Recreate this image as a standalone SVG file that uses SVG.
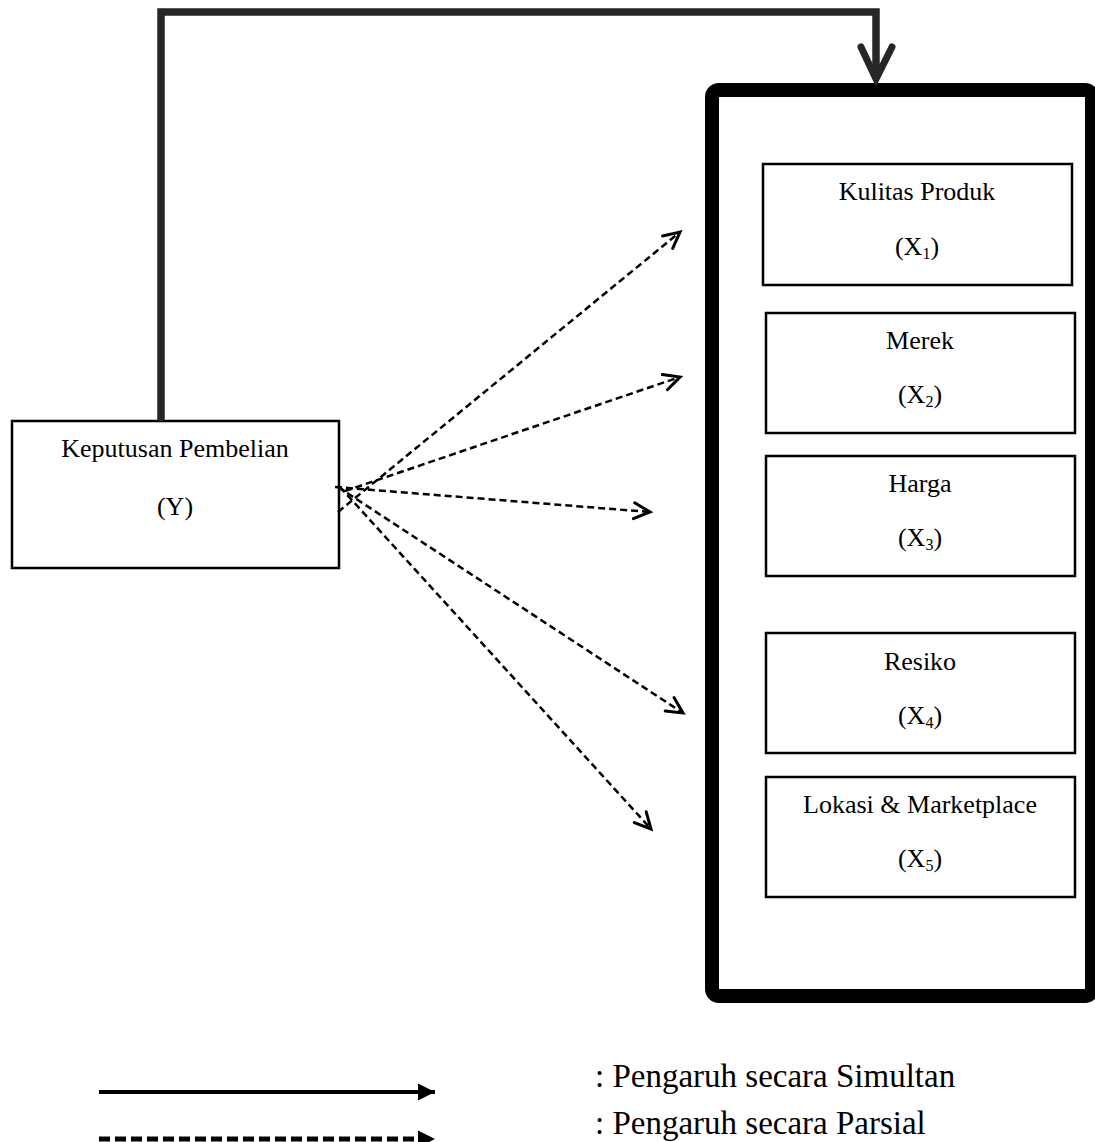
<svg xmlns="http://www.w3.org/2000/svg" width="1095" height="1142" viewBox="0 0 1095 1142">
<style>
.box{fill:#fff;stroke:#000;stroke-width:2.5}
.t{font-family:"Liberation Serif","Times New Roman",serif;font-size:26px;fill:#000;text-anchor:middle}
.sub{font-size:16px}
.lg{font-family:"Liberation Serif","Times New Roman",serif;font-size:33px;fill:#000}
.dash{fill:none;stroke:#000;stroke-width:2.5;stroke-dasharray:7 4}
</style>
<defs>
<marker id="open" markerUnits="userSpaceOnUse" markerWidth="24" markerHeight="24" viewBox="-20 -12 24 24" refX="0" refY="0" orient="auto">
<path d="M-16,-8 L0,0 L-16,8" fill="none" stroke="#000" stroke-width="3" stroke-linecap="round"/>
</marker>
<marker id="fill" markerUnits="userSpaceOnUse" markerWidth="24" markerHeight="24" viewBox="-20 -12 24 24" refX="0" refY="0" orient="auto">
<path d="M-17,-8.5 L0,0 L-17,8.5 Z" fill="#000"/>
</marker>
</defs>

<g id="container">
<rect x="712" y="90" width="380" height="906" rx="7" fill="#fff" stroke="#000" stroke-width="14"/>
</g>

<g id="node-y">
<rect class="box" x="12" y="421" width="327" height="147"/>
<text class="t" x="175" y="457">Keputusan Pembelian</text>
<text class="t" x="175" y="515">(Y)</text>
</g>

<g id="node-x1">
<rect class="box" x="763" y="164" width="309" height="121"/>
<text class="t" x="917" y="200">Kulitas Produk</text>
<text class="t" x="917" y="255">(X<tspan class="sub" dy="4">1</tspan><tspan dy="-4">)</tspan></text>
</g>

<g id="node-x2">
<rect class="box" x="766" y="313" width="309" height="120"/>
<text class="t" x="920" y="349">Merek</text>
<text class="t" x="920" y="403">(X<tspan class="sub" dy="4">2</tspan><tspan dy="-4">)</tspan></text>
</g>

<g id="node-x3">
<rect class="box" x="766" y="456" width="309" height="120"/>
<text class="t" x="920" y="492">Harga</text>
<text class="t" x="920" y="546">(X<tspan class="sub" dy="4">3</tspan><tspan dy="-4">)</tspan></text>
</g>

<g id="node-x4">
<rect class="box" x="766" y="633" width="309" height="120"/>
<text class="t" x="920" y="670">Resiko</text>
<text class="t" x="920" y="724">(X<tspan class="sub" dy="4">4</tspan><tspan dy="-4">)</tspan></text>
</g>

<g id="node-x5">
<rect class="box" x="766" y="777" width="309" height="120"/>
<text class="t" x="920" y="813">Lokasi &amp; Marketplace</text>
<text class="t" x="920" y="867">(X<tspan class="sub" dy="4">5</tspan><tspan dy="-4">)</tspan></text>
</g>

<g id="connectors">
<path d="M161,421 L161,12 L876,12 L876,76" fill="none" stroke="#262626" stroke-width="7.5"/>
<path d="M861,47 L876,79 L892,47" fill="none" stroke="#262626" stroke-width="7" stroke-linecap="round" stroke-linejoin="miter"/>
<line class="dash" x1="338" y1="512" x2="680" y2="232" marker-end="url(#open)"/>
<line class="dash" x1="345" y1="491" x2="680" y2="377" marker-end="url(#open)"/>
<line class="dash" x1="335" y1="487" x2="650" y2="512" marker-end="url(#open)"/>
<line class="dash" x1="338" y1="487" x2="683" y2="713" marker-end="url(#open)"/>
<line class="dash" x1="340" y1="487" x2="651" y2="829" marker-end="url(#open)"/>
</g>

<g id="legend">
<line x1="99" y1="1092" x2="435" y2="1092" stroke="#000" stroke-width="4" marker-end="url(#fill)"/>
<line x1="99" y1="1139" x2="435" y2="1139" stroke="#000" stroke-width="5" stroke-dasharray="11 5" marker-end="url(#fill)"/>
<text class="lg" x="595" y="1087">: Pengaruh secara Simultan</text>
<text class="lg" x="595" y="1134">: Pengaruh secara Parsial</text>
</g>
</svg>
